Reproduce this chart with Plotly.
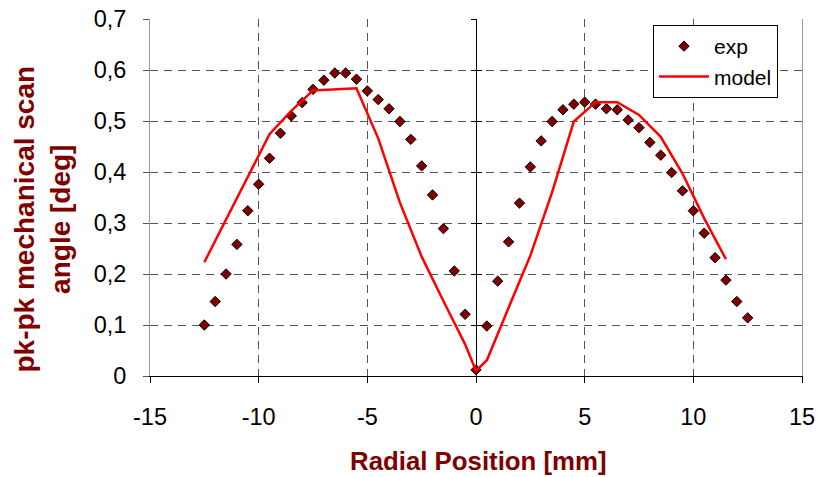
import plotly.graph_objects as go

# Experimental scan angle vs radial position
exp_x = [-12.5, -12, -11.5, -11, -10.5, -10, -9.5, -9, -8.5, -8, -7.5, -7, -6.5, -6,
         -5.5, -5, -4.5, -4, -3.5, -3, -2.5, -2, -1.5, -1, -0.5, 0,
         0.5, 1, 1.5, 2, 2.5, 3, 3.5, 4, 4.5, 5, 5.5, 6, 6.5, 7, 7.5, 8, 8.5, 9,
         9.5, 10, 10.5, 11, 11.5, 12, 12.5]
exp_y = [0.100, 0.146, 0.200, 0.258, 0.324, 0.376, 0.427, 0.476, 0.510, 0.536, 0.562,
         0.580, 0.594, 0.594, 0.582, 0.559, 0.542, 0.524, 0.499, 0.464, 0.412, 0.355,
         0.289, 0.206, 0.121, 0.012,
         0.098, 0.186, 0.263, 0.339, 0.410, 0.461, 0.499, 0.522, 0.533, 0.537, 0.533,
         0.524, 0.522, 0.502, 0.487, 0.458, 0.433, 0.399, 0.363, 0.324, 0.280, 0.232,
         0.188, 0.146, 0.114]

# Model prediction
model_x = [-12.5, -9.5, -8.5, -7.5, -5.5, -4.5, -3.5, -2.5, -1.5, -0.5, 0,
           0.5, 1.5, 2.5, 3.5, 4.5, 5.5, 6.5, 7.5, 8.5, 9.5, 10.5, 11.5]
model_y = [0.223, 0.474, 0.520, 0.560, 0.564, 0.466, 0.340, 0.234, 0.147, 0.062, 0.010,
           0.031, 0.134, 0.236, 0.360, 0.499, 0.537, 0.537, 0.512, 0.469, 0.397, 0.309, 0.229]

x_tick_vals = [-15, -10, -5, 0, 5, 10, 15]
x_tick_labels = ["-15", "-10", "-5", "0", "5", "10", "15"]
y_tick_vals = [0, 0.1, 0.2, 0.3, 0.4, 0.5, 0.6, 0.7]
y_tick_labels = ["0", "0,1", "0,2", "0,3", "0,4", "0,5", "0,6", "0,7"]

FONT = "Liberation Sans, Arial, sans-serif"
TITLE_COLOR = "#800000"
GRID_COLOR = "#555555"
FRAME_COLOR = "#999999"

fig = go.Figure()
fig.add_trace(go.Scatter(
    x=exp_x, y=exp_y, mode="markers", name="exp",
    marker=dict(symbol="diamond", size=8, color="#800000",
                line=dict(color="black", width=1)),
))
fig.add_trace(go.Scatter(
    x=model_x, y=model_y, mode="lines", name="model",
    line=dict(color="#ff0000", width=2.5),
))
# empty traces so the crossing tick axes at x = 0 get rendered
for ax in ("y3", "y4"):
    fig.add_trace(go.Scatter(x=[None], y=[None], yaxis=ax, showlegend=False,
                             hoverinfo="skip", mode="markers"))

common_y = dict(range=[0, 0.7], tickvals=y_tick_vals, showgrid=False, zeroline=False,
                overlaying="y", anchor="free", position=0.5, showticklabels=False,
                ticklen=5, tickcolor="black", showline=False, automargin=False)

fig.update_layout(
    width=817, height=477,
    margin=dict(l=150, r=15, t=19, b=101),
    paper_bgcolor="white", plot_bgcolor="white",
    font=dict(family=FONT, color="black"),
    showlegend=True,
    legend=dict(
        x=(653 - 150) / 652, y=(376 - 25) / 357, xanchor="left", yanchor="top",
        bgcolor="white", bordercolor="black", borderwidth=1,
        font=dict(size=21, family=FONT, color="black"),
        itemwidth=50,
    ),
    xaxis=dict(
        range=[-15, 15], tickvals=x_tick_vals, ticktext=x_tick_labels,
        tickfont=dict(size=23.5, family=FONT, color="black"),
        ticks="outside", ticklen=6, tickcolor="black",
        showline=True, linecolor="black", linewidth=1,
        showgrid=True, gridcolor=GRID_COLOR, gridwidth=1, griddash="8px,6px",
        zeroline=True, zerolinecolor="black", zerolinewidth=1,
        ticklabelstandoff=14, automargin=False,
    ),
    xaxis2=dict(
        range=[-15, 15], overlaying="x", side="top", showline=True,
        linecolor=FRAME_COLOR, linewidth=1, showticklabels=False, ticks="",
        showgrid=False, zeroline=False, automargin=False,
    ),
    yaxis=dict(
        range=[0, 0.7], tickvals=y_tick_vals, ticktext=y_tick_labels,
        tickfont=dict(size=23.5, family=FONT, color="black"),
        ticks="outside", ticklen=6, tickcolor="#555555",
        showline=True, linecolor=FRAME_COLOR, linewidth=1, mirror=True,
        showgrid=True, gridcolor=GRID_COLOR, gridwidth=1, griddash="8px,6px",
        zeroline=False,
        ticklabelstandoff=12, automargin=False,
    ),
    yaxis3=dict(common_y, ticks="inside"),
    yaxis4=dict(common_y, ticks="outside"),
    annotations=[
        dict(text="pk-pk mechanical scan<br>angle [deg]", textangle=-90,
             xref="paper", yref="paper", x=(41.5 - 150) / 652, y=(376 - 219) / 357,
             xanchor="center", yanchor="middle", showarrow=False,
             font=dict(size=28, family=FONT, color=TITLE_COLOR, weight="bold")),
        dict(text="Radial Position [mm]",
             xref="paper", yref="paper", x=(478 - 150) / 652, y=(376 - 461) / 357,
             xanchor="center", yanchor="middle", showarrow=False,
             font=dict(size=25.8, family=FONT, color=TITLE_COLOR, weight="bold")),
    ],
)

fig.write_html("out.html")
